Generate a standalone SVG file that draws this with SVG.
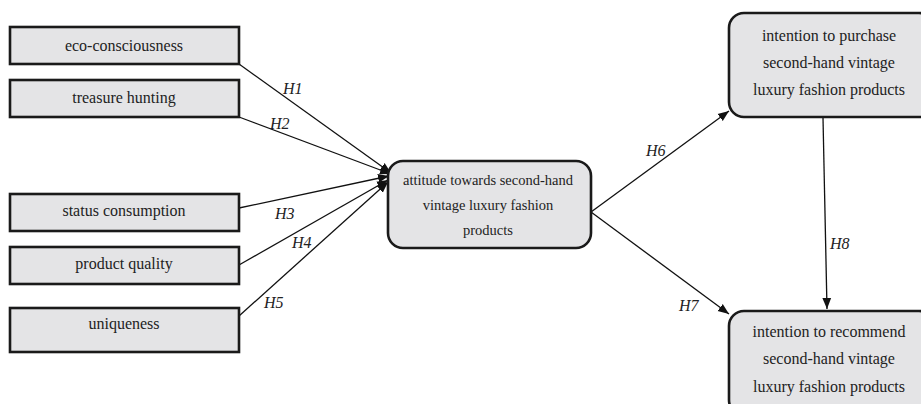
<svg xmlns="http://www.w3.org/2000/svg" width="921" height="404" viewBox="0 0 921 404">
<defs>
<style>
.box{fill:#e4e4e6;stroke:#1a1a1a;stroke-width:2.6}
.t{font-family:"Liberation Serif","Times New Roman",serif;font-size:16px;fill:#222;text-anchor:middle}
.s{font-size:14.5px}
.h{font-family:"Liberation Serif","Times New Roman",serif;font-size:16px;font-style:italic;fill:#222}
.c{stroke:#111;stroke-width:1.3;fill:none;marker-end:url(#ah)}
</style>
<marker id="ah" viewBox="0 0 10 10" refX="10" refY="5" markerWidth="11" markerHeight="11" markerUnits="userSpaceOnUse" orient="auto">
<path d="M0,1 L10,5 L0,9 Z" fill="#111"/>
</marker>
</defs>
<rect width="921" height="404" fill="#fff"/>
<g id="connectors">
<line class="c" x1="239" y1="64" x2="391" y2="173"/>
<line class="c" x1="239" y1="117" x2="391" y2="174"/>
<line class="c" x1="239" y1="208" x2="389" y2="176"/>
<line class="c" x1="239" y1="265" x2="388" y2="180"/>
<line class="c" x1="239" y1="316" x2="388" y2="182"/>
<line class="c" x1="591" y1="212" x2="729" y2="111"/>
<line class="c" x1="591" y1="212" x2="729" y2="314"/>
<line class="c" x1="823" y1="118" x2="827" y2="309"/>
<text class="h" x="283" y="94">H1</text>
<text class="h" x="270" y="129">H2</text>
<text class="h" x="275" y="219">H3</text>
<text class="h" x="292" y="248">H4</text>
<text class="h" x="264" y="308">H5</text>
<text class="h" x="646" y="156">H6</text>
<text class="h" x="679" y="311">H7</text>
<text class="h" x="830" y="249">H8</text>
</g>
<g id="eco"><rect class="box" x="10" y="27" width="229" height="37"/><text class="t" x="124" y="51">eco-consciousness</text></g>
<g id="treasure"><rect class="box" x="10" y="80" width="229" height="37"/><text class="t" x="124" y="103">treasure hunting</text></g>
<g id="status"><rect class="box" x="10" y="194" width="229" height="37"/><text class="t" x="124" y="216">status consumption</text></g>
<g id="quality"><rect class="box" x="10" y="247" width="229" height="37"/><text class="t" x="124" y="269">product quality</text></g>
<g id="uniqueness"><rect class="box" x="10" y="308" width="229" height="44"/><text class="t" x="124" y="329">uniqueness</text></g>
<g id="attitude"><rect class="box" x="388" y="161" width="203" height="87" rx="15"/>
<text class="t s" x="488" y="185">attitude towards second-hand</text>
<text class="t s" x="488" y="210">vintage luxury fashion</text>
<text class="t s" x="488" y="235">products</text></g>
<g id="purchase"><rect class="box" x="729" y="13" width="205" height="104" rx="15"/>
<text class="t" x="829" y="41">intention to purchase</text>
<text class="t" x="829" y="68">second-hand vintage</text>
<text class="t" x="829" y="95">luxury fashion products</text></g>
<g id="recommend"><rect class="box" x="729" y="311" width="205" height="104" rx="15"/>
<text class="t" x="829" y="337">intention to recommend</text>
<text class="t" x="829" y="364">second-hand vintage</text>
<text class="t" x="829" y="392">luxury fashion products</text></g>
</svg>
